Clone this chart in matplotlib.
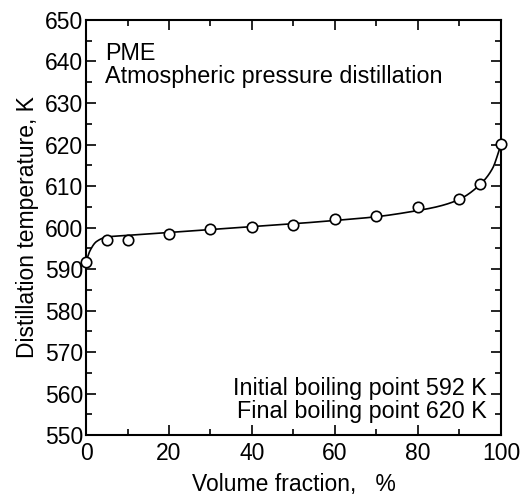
import numpy as np
import matplotlib
matplotlib.use('Agg')
import matplotlib.pyplot as plt
from matplotlib.ticker import MultipleLocator

plt.rcParams['font.family'] = ['Liberation Sans', 'DejaVu Sans']

# measured points
体积分数 = [0, 5, 10, 20, 30, 40, 50, 60, 70, 80, 90, 95, 100]
温度 = [591.6, 597.0, 596.9, 598.5, 599.6, 600.1, 600.6, 602.1, 602.8, 604.9, 606.9, 610.5, 620.2]

# knots of the smooth fitted curve
曲线x = [0, 1, 2.5, 5, 10, 20, 30, 40, 50, 60, 70, 80, 85, 90, 95, 98, 100]
曲线y = [591.8, 594.5, 596.6, 597.7, 598.1, 598.8, 599.5, 600.2, 600.9, 601.7, 602.6, 604.1, 605.1, 606.8, 610.4, 614.3, 620.0]


def pchip(x, y, xs):
    x = np.asarray(x, float)
    y = np.asarray(y, float)
    h = np.diff(x)
    d = np.diff(y) / h
    m = np.zeros_like(y)
    for k in range(1, len(x) - 1):
        if d[k - 1] * d[k] > 0:
            w1 = 2 * h[k] + h[k - 1]
            w2 = h[k] + 2 * h[k - 1]
            m[k] = (w1 + w2) / (w1 / d[k - 1] + w2 / d[k])
    m[0] = d[0]
    m[-1] = d[-1]
    i = np.clip(np.searchsorted(x, xs) - 1, 0, len(x) - 2)
    t = (xs - x[i]) / h[i]
    h00 = 2 * t**3 - 3 * t**2 + 1
    h10 = t**3 - 2 * t**2 + t
    h01 = -2 * t**3 + 3 * t**2
    h11 = t**3 - t**2
    return h00 * y[i] + h10 * h[i] * m[i] + h01 * y[i + 1] + h11 * h[i] * m[i + 1]


fig = plt.figure(figsize=(5.29, 4.95), dpi=100)
ax = fig.add_axes([0.1626, 0.1212, 0.7844, 0.8384])

xs = np.linspace(0, 100, 600)
ax.plot(xs, pchip(曲线x, 曲线y, xs), color='black', lw=1.2, zorder=2)
ax.plot(体积分数, 温度, 'o', ms=7.5, mfc='white', mec='black', mew=1.2, zorder=3, clip_on=False)

ax.set_xlim(0, 100)
ax.set_ylim(550, 650)
ax.xaxis.set_major_locator(MultipleLocator(20))
ax.xaxis.set_minor_locator(MultipleLocator(10))
ax.yaxis.set_major_locator(MultipleLocator(10))
ax.yaxis.set_minor_locator(MultipleLocator(5))
ax.tick_params(which='both', direction='in', top=True, right=True, labelsize=16.5, width=1.2)
ax.tick_params(axis='x', pad=5)
ax.tick_params(axis='y', pad=2)
ax.tick_params(which='major', length=7)
ax.tick_params(which='minor', length=4)
for s in ax.spines.values():
    s.set_linewidth(1.5)

ax.set_xlabel('Volume fraction,   %', fontsize=16.5, labelpad=6)
ax.set_ylabel('Distillation temperature, K', fontsize=16.5, labelpad=4)

ax.text(0.045, 0.948, 'PME\nAtmospheric pressure distillation', transform=ax.transAxes,
        fontsize=16.8, va='top', ha='left', linespacing=1.0)
ax.text(0.965, 0.03, 'Initial boiling point 592 K\nFinal boiling point 620 K', transform=ax.transAxes,
        fontsize=16.8, va='bottom', ha='right', linespacing=1.0)

fig.savefig('out.png', dpi=100)
